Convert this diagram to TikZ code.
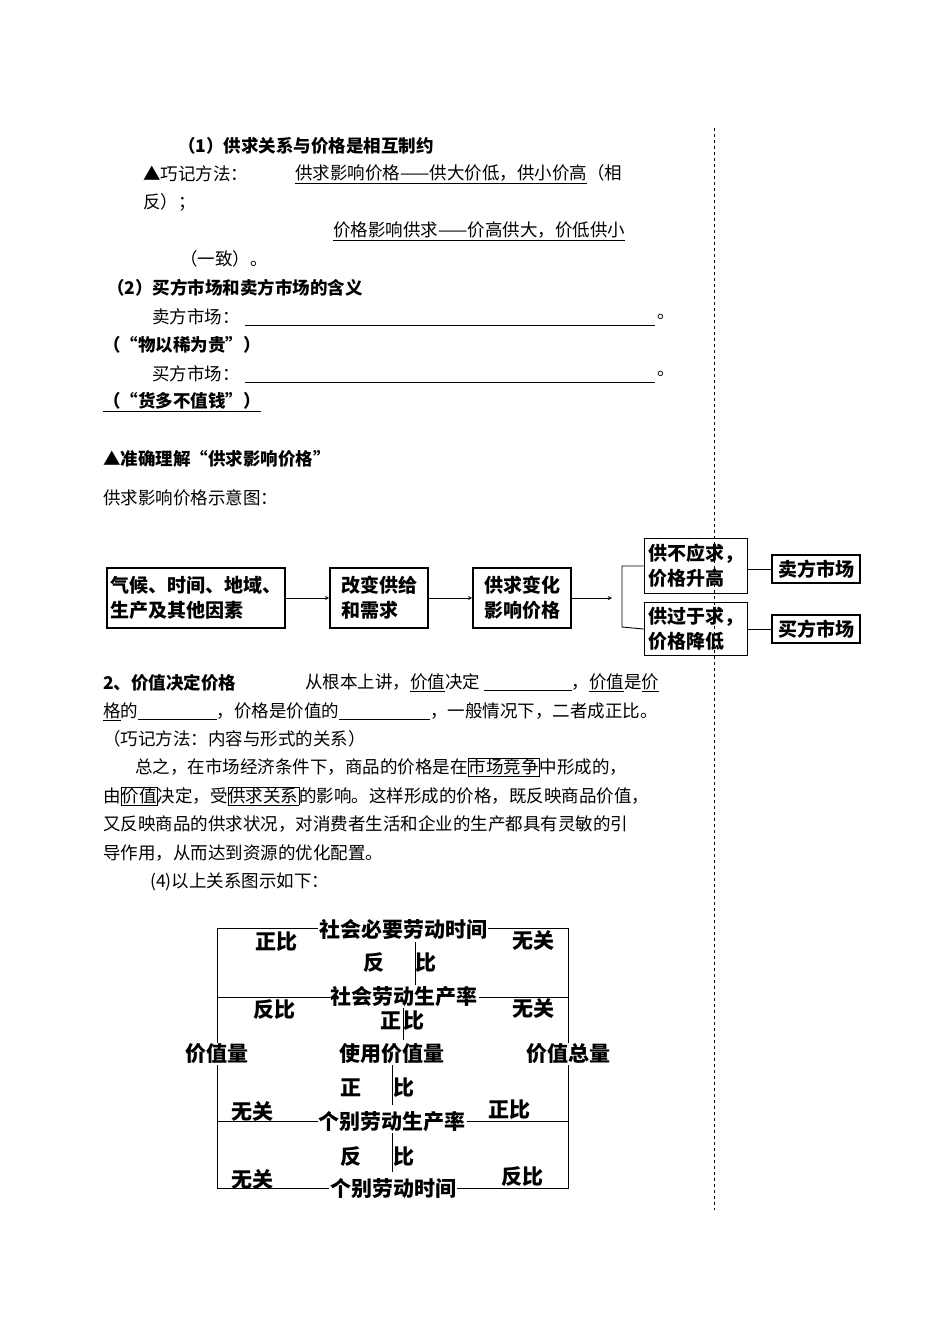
\documentclass[tikz,border=0pt]{standalone}
\usepackage{fontspec}
\setmainfont{Liberation Serif}
\newfontfamily\cjk{Noto Sans CJK SC}
\newcommand{\ul}[1]{\underline{#1}}
\newcommand{\bx}[1]{{\setlength{\fboxsep}{0.5pt}\fbox{#1}}}
\begin{document}
\begin{tikzpicture}[x=1pt,y=-1pt,
 t/.style={anchor=west,inner sep=0pt,font=\cjk\fontsize{17.5}{20}\selectfont},
 tb/.style={t,font=\cjk\bfseries\fontsize{17.5}{20}\selectfont},
 fb/.style={draw,line width=1.6pt,inner sep=2pt,align=left,font=\cjk\bfseries\fontsize{19}{25}\selectfont},
 dl/.style={font=\cjk\bfseries\fontsize{21}{24}\selectfont,inner sep=1pt,fill=white},
 ar/.style={->,>=stealth,line width=0.9pt}]
\useasboundingbox (0,0) rectangle (950,1342);
\draw[dashed,line width=0.8pt] (714,128) -- (714,1210);
\node[tb] (l1) at (178,146) {（1）供求关系与价格是相互制约};
\node[t] (l2) at (143,174) {▲巧记方法：};
\node[t] (l2b) at (295,174) {\ul{供求影响价格——供大价低，供小价高}（相};
\node[t] (l3) at (143,202) {反）；};
\node[t] (l4) at (333,231) {\ul{价格影响供求——价高供大，价低供小}};
\node[t] (l5) at (180,259) {（一致）。};
\node[tb] (l6) at (107,288) {（2）买方市场和卖方市场的含义};
\node[t] (l7) at (152,317) {卖方市场：};
\draw (245,325) -- (655,325);
\node[t] (l7b) at (657,317) {。};
\node[tb] (l8) at (103,345) {（“物以稀为贵”）};
\node[t] (l9) at (152,374) {买方市场：};
\draw (245,382) -- (655,382);
\node[t] (l9b) at (657,374) {。};
\node[tb] (l10) at (103,402) {\ul{（“货多不值钱”）}};
\node[tb] (l11) at (103,459) {▲准确理解“供求影响价格”};
\node[t] (l12) at (103,498) {供求影响价格示意图：};
% flowchart
\node[fb,minimum width=178pt,minimum height=60pt,inner sep=1pt] (b1) at (196,598) {气候、时间、地域、\\生产及其他因素};
\node[fb,minimum width=98pt,minimum height=60pt] (b2) at (379,598) {改变供给\\和需求};
\node[fb,minimum width=98pt,minimum height=60pt] (b3) at (522,598) {供求变化\\影响价格};
\node[fb,minimum width=103pt,minimum height=55pt] (b4) at (696,566) {供不应求，\\价格升高};
\node[fb,minimum width=103pt,minimum height=53pt] (b5) at (696,629) {供过于求，\\价格降低};
\node[fb,minimum width=88pt,minimum height=28pt] (b6) at (816,569) {卖方市场};
\node[fb,minimum width=88pt,minimum height=28pt] (b7) at (816,629) {买方市场};
\draw[ar] (b1) -- (b2);
\draw[ar] (b2) -- (b3);
\coordinate (br) at (622,598);
\draw[ar] (b3) -- (612,598);
\draw[line width=0.9pt] (b4.west) -- (622,566) -- (622,627) -- (b5.west);
\draw[line width=0.9pt] (b4.east |- b6) -- (b6);
\draw[line width=0.9pt] (b5.east |- b7) -- (b7);
% paragraph
\node[tb] (p1) at (103,683) {2、价值决定价格};
\node[t] (p1b) at (305,683) {从根本上讲，\ul{价值}决定 \ul{\hspace{5em}}，\ul{价值}是\ul{价}};
\node[t] (p2) at (103,712) {\ul{格}的\ul{\hspace{4.5em}}，价格是价值的\ul{\hspace{5.2em}}，一般情况下，二者成正比。};
\node[t] (p3) at (103,739) {（巧记方法：内容与形式的关系）};
\node[t] (p4) at (135,767) {总之，在市场经济条件下，商品的价格是在\bx{市场竞争}中形成的，};
\node[t] (p5) at (103,796) {由\bx{价值}决定，受\bx{供求关系}的影响。这样形成的价格，既反映商品价值，};
\node[t] (p6) at (103,824) {又反映商品的供求状况，对消费者生活和企业的生产都具有灵敏的引};
\node[t] (p7) at (103,853) {导作用，从而达到资源的优化配置。};
\node[t] (p8) at (150,882) {(4)以上关系图示如下：};
% bottom diagram
\draw[line width=0.9pt] (217,928) -- (568,928) -- (568,1188) -- (217,1188) -- cycle;
\draw[line width=0.9pt] (217,997) -- (568,997);
\draw[line width=0.9pt] (217,1121) -- (568,1121);
\draw[line width=0.9pt] (415,942) -- (415,985);
\draw[line width=0.9pt] (403,1000) -- (403,1040);
\draw[line width=0.9pt] (392,1065) -- (392,1105);
\draw[line width=0.9pt] (392,1133) -- (392,1172);
\node[dl] (n1) at (403,929) {社会必要劳动时间};
\node[dl] (n2) at (404,997) {社会劳动生产率};
\node[dl] (n3) at (217,1054) {价值量};
\node[dl] (n4) at (392,1054) {使用价值量};
\node[dl] (n5) at (568,1054) {价值总量};
\node[dl] (n6) at (392,1122) {个别劳动生产率};
\node[dl] (n7) at (393,1189) {个别劳动时间};
\node[dl,fill=none] at (276,942) {正比};
\node[dl,fill=none] at (533,940) {无关};
\node[dl,fill=none] at (374,963) {反};
\node[dl,fill=none] at (426,963) {比};
\node[dl,fill=none] at (274,1010) {反比};
\node[dl,fill=none] at (533,1008) {无关};
\node[dl,fill=none] at (391,1021) {正};
\node[dl,fill=none] at (414,1021) {比};
\node[dl,fill=none] at (351,1088) {正};
\node[dl,fill=none] at (404,1088) {比};
\node[dl,fill=none] at (252,1111) {无关};
\node[dl,fill=none] at (509,1110) {正比};
\node[dl,fill=none] at (351,1157) {反};
\node[dl,fill=none] at (404,1157) {比};
\node[dl,fill=none] at (252,1179) {无关};
\node[dl,fill=none] at (522,1177) {反比};
\end{tikzpicture}
\end{document}
